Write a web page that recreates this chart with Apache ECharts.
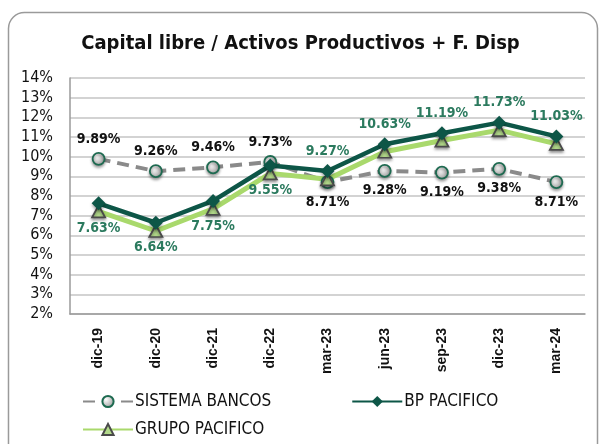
<!DOCTYPE html>
<html>
<head>
<meta charset="utf-8">
<script src="https://cdn.jsdelivr.net/npm/echarts@6/dist/echarts.min.js"></script>
<style>
  html, body { margin: 0; padding: 0; background: #fff; }
  #chart { width: 601px; height: 444px; }
</style>
</head>
<body>
<div id="chart"></div>
<script>
// categories + values
const periods = ['dic-19', 'dic-20', 'dic-21', 'dic-22', 'mar-23', 'jun-23', 'sep-23', 'dic-23', 'mar-24']
const sistemaBancos = [9.89, 9.26, 9.46, 9.73, 8.71, 9.28, 9.19, 9.38, 8.71]
const bpPacifico = [7.63, 6.64, 7.75, 9.55, 9.27, 10.63, 11.19, 11.73, 11.03]
const grupoPacifico = [7.22, 6.22, 7.35, 9.15, 8.85, 10.25, 10.82, 11.35, 10.65]
const yTicks = { min: 2, max: 14, step: 1 }

const font = '"DejaVu Sans Condensed", "DejaVu Sans", sans-serif'
const darkGreen = '#0d5647'
const labelGreen = '#2b7a5e'
const lightGreen = '#a9d96c'

const chart = echarts.init(document.getElementById('chart'))

// sistema labels go above for the first 4 points, below afterwards (BP the other way round)
const pos = (i, first) => (i < 4 ? first : (first === 'top' ? 'bottom' : 'top'))

chart.setOption({
  animation: false,
  backgroundColor: '#fff',
  title: {
    text: 'Capital libre / Activos Productivos + F. Disp',
    left: 'center',
    top: 29,
    textStyle: { fontFamily: font, fontSize: 20, fontWeight: 'bold', color: '#111' }
  },
  graphic: [{
    type: 'rect',
    shape: { x: 8.5, y: 12.5, width: 589, height: 460, r: 16 },
    style: { fill: 'none', stroke: '#9a9a9a', lineWidth: 1.5 },
    silent: true
  }],
  legend: [
    {
      data: ['SISTEMA BANCOS', 'BP PACIFICO'],
      left: 77, top: 388,
      itemWidth: 50, itemHeight: 14, itemGap: 80,
      textStyle: { fontFamily: font, fontSize: 17, color: '#111', padding: [0, 0, 0, -3] }
    },
    {
      data: ['GRUPO PACIFICO'],
      left: 77, top: 416,
      itemWidth: 50, itemHeight: 14,
      textStyle: { fontFamily: font, fontSize: 17, color: '#111', padding: [0, 0, 0, -3] }
    }
  ],
  grid: { left: 70, right: 16, top: 78, bottom: 130 },
  xAxis: {
    type: 'category',
    data: periods,
    boundaryGap: true,
    axisLine: { lineStyle: { color: '#9a9a9a', width: 1.5 } },
    axisTick: { show: false },
    axisLabel: {
      rotate: 90, margin: 14, fontFamily: 'Arial, "Liberation Sans", sans-serif',
      fontSize: 14, fontWeight: 'bold', color: '#111'
    }
  },
  yAxis: {
    type: 'value',
    min: yTicks.min, max: yTicks.max, interval: yTicks.step,
    axisLine: { show: true, lineStyle: { color: '#9a9a9a', width: 1.5 } },
    axisTick: { show: false },
    splitLine: { lineStyle: { color: '#c4c4c4', width: 1.5 } },
    axisLabel: { formatter: '{value}%', fontFamily: font, fontSize: 16, color: '#111', margin: 17 }
  },
  series: [
    {
      name: 'SISTEMA BANCOS',
      type: 'line',
      data: sistemaBancos.map((v, i) => ({ value: v, label: { position: pos(i, 'top') } })),
      symbol: 'circle',
      symbolSize: 12,
      lineStyle: { color: '#8a8a8a', width: 4, type: [12, 7] },
      itemStyle: {
        color: new echarts.graphic.RadialGradient(0.35, 0.35, 0.7, [
          { offset: 0, color: '#ffffff' },
          { offset: 1, color: '#9a9a9a' }
        ]),
        borderColor: '#1d6a50', borderWidth: 1.8,
        shadowColor: 'rgba(0,0,0,0.35)', shadowBlur: 3, shadowOffsetY: 2
      },
      label: {
        show: true, distance: 6, formatter: p => p.value.toFixed(2) + '%',
        fontFamily: font, fontSize: 14, fontWeight: 'bold', color: '#111'
      },
      z: 2
    },
    {
      name: 'BP PACIFICO',
      type: 'line',
      data: bpPacifico.map((v, i) => ({
        value: v,
        label: { position: pos(i, 'bottom'), distance: i < 4 ? 11 : 6 }
      })),
      symbol: 'diamond',
      symbolSize: 14,
      lineStyle: { color: darkGreen, width: 4.5 },
      itemStyle: { color: darkGreen, shadowColor: 'rgba(0,0,0,0.35)', shadowBlur: 3, shadowOffsetY: 2 },
      label: {
        show: true, formatter: p => p.value.toFixed(2) + '%',
        fontFamily: font, fontSize: 14, fontWeight: 'bold', color: labelGreen
      },
      z: 3
    },
    {
      name: 'GRUPO PACIFICO',
      type: 'line',
      data: grupoPacifico,
      symbol: 'triangle',
      symbolSize: [13, 12],
      lineStyle: { color: lightGreen, width: 5 },
      itemStyle: {
        color: '#b2d98a', borderColor: '#4a4a4a', borderWidth: 1.8,
        shadowColor: 'rgba(0,0,0,0.35)', shadowBlur: 3, shadowOffsetY: 2
      },
      z: 2
    }
  ]
})
</script>
</body>
</html>
